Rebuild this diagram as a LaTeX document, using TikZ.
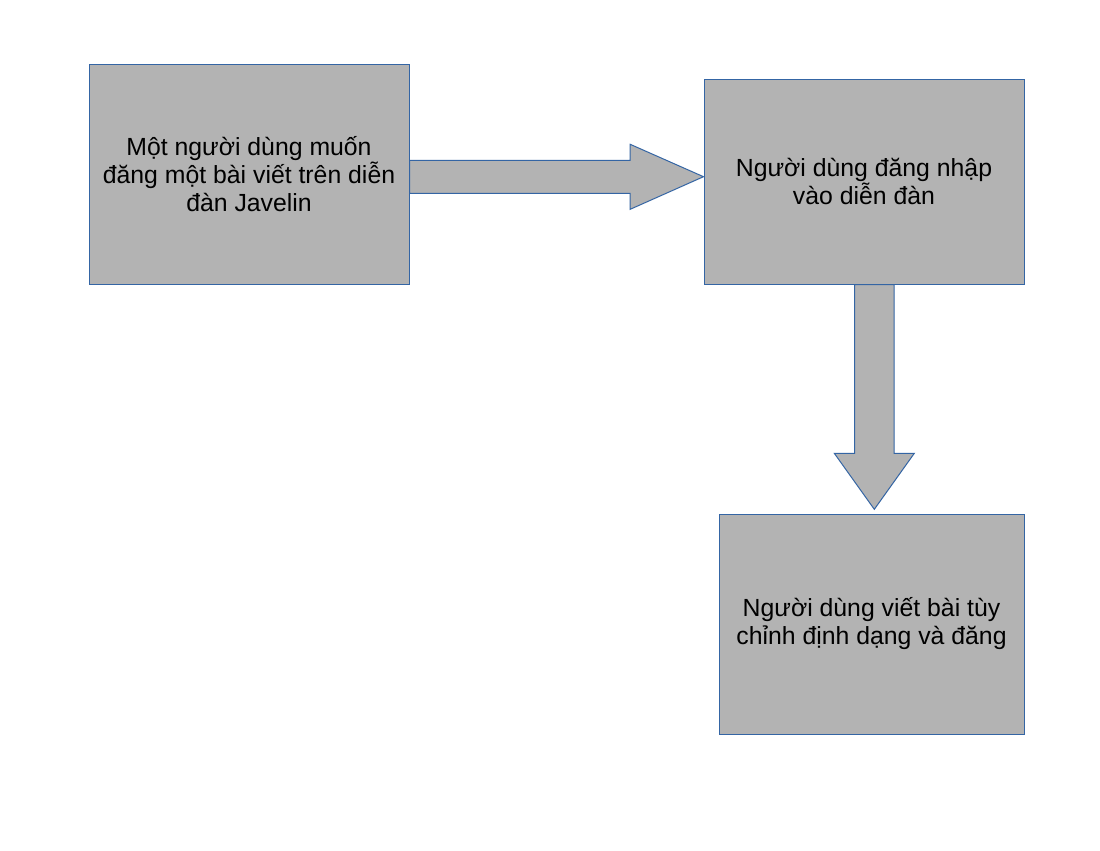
\documentclass[tikz,border=0pt]{standalone}
\usepackage{fontspec}
\setmainfont{Liberation Sans}
\usetikzlibrary{calc}
\definecolor{boxfill}{HTML}{B3B3B3}
\definecolor{boxline}{HTML}{3465A4}
\tikzset{
  stepbox/.style={draw=boxline, fill=boxfill, line width=0.75pt, inner sep=0pt,
    align=center, text=black, font=\fontsize{18.6pt}{21pt}\selectfont},
  blockarrow/.style={draw=boxline, fill=boxfill, line width=0.75pt, line join=miter}
}
\begin{document}
\begin{tikzpicture}[x=0.75pt,y=-0.75pt]
\useasboundingbox[fill=white] (0,0) rectangle (1100,850);
% boxes
\node[stepbox, minimum width=240pt, minimum height=165pt] (b1) at (249,174)
  {Một người dùng muốn\\đăng một bài viết trên diễn\\đàn Javelin};
\node[stepbox, minimum width=240pt, minimum height=153.75pt] (b2) at (864,181.5)
  {Người dùng đăng nhập\\vào diễn đàn};
\node[stepbox, minimum width=228.75pt, minimum height=165pt] (b3) at (871.5,624)
  {Người dùng viết bài tùy\\chỉnh định dạng và đăng};
% arrow 1 (right)
\coordinate (s1) at (b1.east |- 0,176.7);
\coordinate (e1) at (b2.west |- 0,176.7);
\draw[blockarrow] ($(s1)+(0,-16.3)$) -- ($(e1)+(-73.3,-16.3)$) -- ($(e1)+(-73.3,-32.4)$)
  -- (e1) -- ($(e1)+(-73.3,32.6)$) -- ($(e1)+(-73.3,16.6)$) -- ($(s1)+(0,16.6)$) -- cycle;
% arrow 2 (down)
\coordinate (s2) at (b2.south -| 874.3,0);
\coordinate (e2) at (874.3,509.3);
\draw[blockarrow] ($(s2)+(-19.6,0)$) -- ($(e2)+(-19.6,-56)$) -- ($(e2)+(-40,-56)$)
  -- (e2) -- ($(e2)+(40,-56)$) -- ($(e2)+(19.7,-56)$) -- ($(s2)+(19.7,0)$) -- cycle;
\end{tikzpicture}
\end{document}
